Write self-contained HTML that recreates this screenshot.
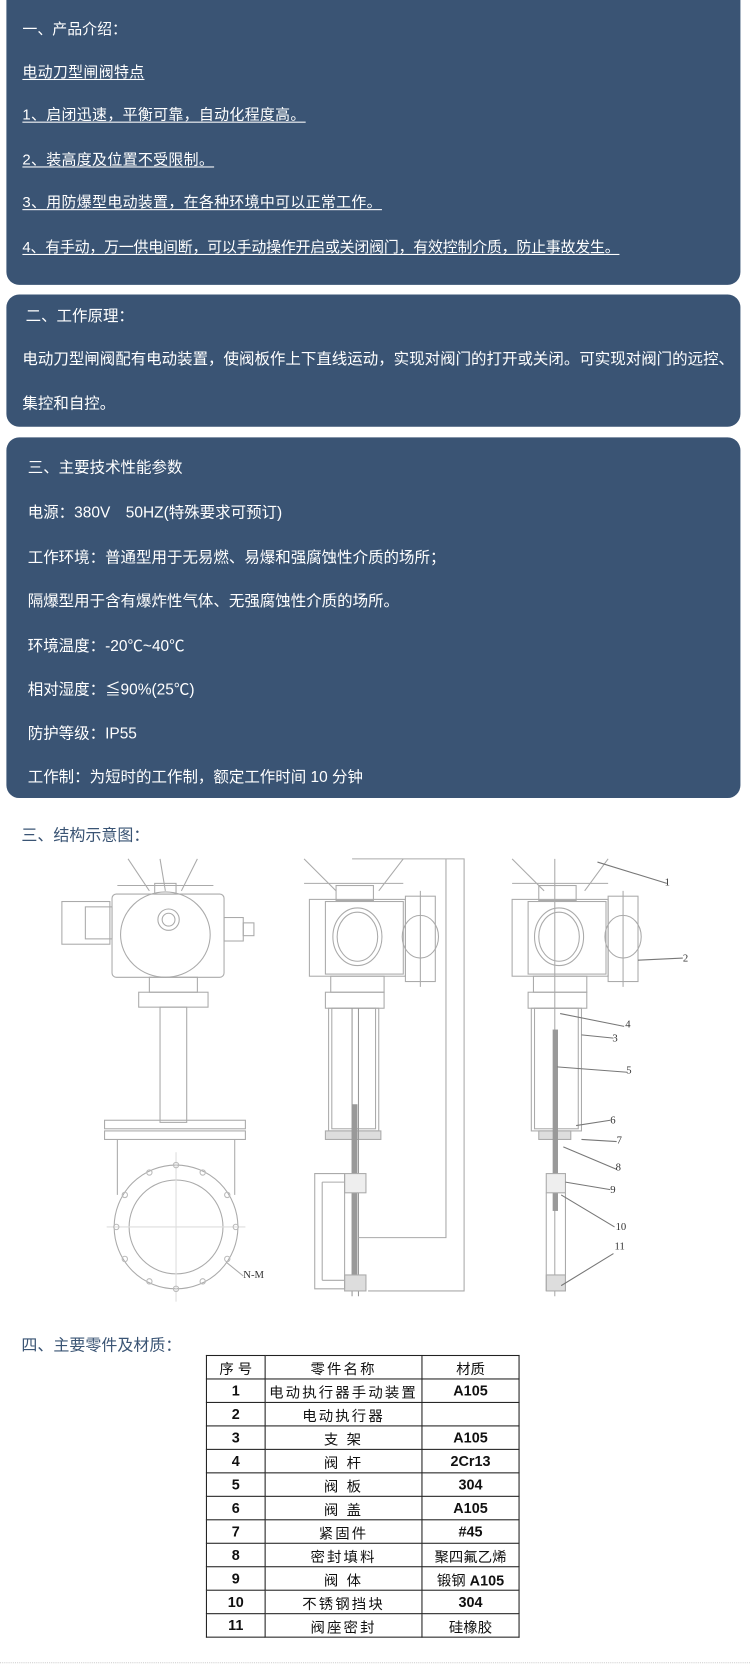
<!DOCTYPE html>
<html><head><meta charset="utf-8">
<style>
html,body{margin:0;padding:0;background:#fff;}
body{width:750px;height:1673px;overflow:hidden;position:relative;}
#w{position:absolute;left:0;top:0;width:703px;height:1568px;transform:scale(1.0669);transform-origin:0 0;font-family:"Liberation Sans","Noto Sans CJK SC","WenQuanYi Zen Hei",sans-serif;}
.p{position:absolute;left:6px;width:688px;background:#3a5474;border-radius:12px;color:#fff;}
.t{position:absolute;left:15px;font-size:14.5px;white-space:nowrap;line-height:18px;}
.u{text-decoration:underline;text-underline-offset:2px;font-size:14px;letter-spacing:0.3px;}
.h{position:absolute;left:20px;color:#3a5474;font-size:15px;}
table{position:absolute;left:193px;top:1270px;border-collapse:collapse;font-size:13.5px;}
td{border:1.5px solid #222;height:21px;padding:0;text-align:center;color:#111;white-space:nowrap;}
td.n{font-weight:bold;}
td.m{letter-spacing:2px;}
</style></head><body><div id="w">
<div class="p" style="top:-12px;height:279px;">
 <div class="t" style="top:30px;font-size:14px;">一、产品介绍：</div>
 <div class="t u" style="top:70px;">电动刀型闸阀特点</div>
 <div class="t u" style="top:110px;">1、启闭迅速，平衡可靠，自动化程度高。</div>
 <div class="t u" style="top:152px;">2、装高度及位置不受限制。</div>
 <div class="t u" style="top:192px;">3、用防爆型电动装置，在各种环境中可以正常工作。</div>
 <div class="t u" style="top:234px;letter-spacing:-0.2px;">4、有手动，万一供电间断，可以手动操作开启或关闭阀门，有效控制介质，防止事故发生。</div>
</div>
<div class="p" style="top:276px;height:124px;">
 <div class="t" style="top:12px;left:18px;">二、工作原理：</div>
 <div class="t" style="top:52px;">电动刀型闸阀配有电动装置，使阀板作上下直线运动，实现对阀门的打开或关闭。可实现对阀门的远控、</div>
 <div class="t" style="top:94px;">集控和自控。</div>
</div>
<div class="p" style="top:410px;height:338px;">
 <div class="t" style="top:20px;left:20px;">三、主要技术性能参数</div>
 <div class="t" style="top:62px;left:20px;">电源：380V　50HZ(特殊要求可预订)</div>
 <div class="t" style="top:104px;left:20px;">工作环境：普通型用于无易燃、易爆和强腐蚀性介质的场所；</div>
 <div class="t" style="top:145px;left:20px;">隔爆型用于含有爆炸性气体、无强腐蚀性介质的场所。</div>
 <div class="t" style="top:187px;left:20px;">环境温度：-20℃~40℃</div>
 <div class="t" style="top:228px;left:20px;">相对湿度：≦90%(25℃)</div>
 <div class="t" style="top:269px;left:20px;">防护等级：IP55</div>
 <div class="t" style="top:310px;left:20px;">工作制：为短时的工作制，额定工作时间 10 分钟</div>
</div>
<div class="h" style="top:772px;">三、结构示意图：</div>
<svg style="position:absolute;left:0;top:0" width="703" height="1568" fill="none" stroke="#aaa" stroke-width="1">
 <path d="M120 805 L140 835 M185 805 L170 835 M150 805 L155 835 M110 830 L200 830"/>
 <rect x="145" y="828" width="20" height="10"/>
 <rect x="58" y="845" width="45" height="40"/><rect x="80" y="850" width="25" height="30"/>
 <rect x="105" y="838" width="105" height="78" rx="4"/>
 <ellipse cx="155" cy="876" rx="42" ry="40"/>
 <circle cx="158" cy="862" r="10"/><circle cx="158" cy="862" r="6"/>
 <rect x="210" y="860" width="18" height="22"/><rect x="228" y="865" width="10" height="12"/>
 <rect x="140" y="916" width="45" height="14"/><rect x="130" y="930" width="65" height="14"/>
 <rect x="150" y="944" width="25" height="108"/>
 <rect x="98" y="1050" width="132" height="8"/><rect x="98" y="1060" width="132" height="8"/>
 <path d="M110 1068 L110 1120 M220 1068 L220 1120"/>
 <circle cx="165" cy="1150" r="58"/><circle cx="165" cy="1150" r="44"/>
 <path d="M100 1150 L230 1150 M165 1080 L165 1220" stroke="#ddd"/>
 <g stroke="#bbb"><circle cx="140" cy="1099" r="2.5"/><circle cx="190" cy="1099" r="2.5"/><circle cx="117" cy="1120" r="2.5"/><circle cx="213" cy="1120" r="2.5"/><circle cx="109" cy="1150" r="2.5"/><circle cx="221" cy="1150" r="2.5"/><circle cx="117" cy="1180" r="2.5"/><circle cx="213" cy="1180" r="2.5"/><circle cx="140" cy="1201" r="2.5"/><circle cx="190" cy="1201" r="2.5"/><circle cx="165" cy="1208" r="2.5"/><circle cx="165" cy="1092" r="2.5"/></g>
 <path d="M212 1183 L228 1196"/>
 <path d="M285 805 L315 835 M378 805 L355 835 M285 828 L378 828"/>
 <rect x="315" y="830" width="35" height="14"/>
 <rect x="290" y="843" width="90" height="72"/><rect x="305" y="845" width="73" height="68"/>
 <ellipse cx="335" cy="878" rx="23" ry="27"/><ellipse cx="335" cy="878" rx="19" ry="23"/>
 <rect x="380" y="840" width="28" height="80"/><ellipse cx="394" cy="878" rx="17" ry="20"/><path d="M394 835 L394 925"/>
 <rect x="310" y="915" width="50" height="15"/><rect x="305" y="930" width="55" height="15"/>
 <rect x="308" y="945" width="47" height="115"/><rect x="311" y="945" width="41" height="113"/>
 <rect x="305" y="1060" width="52" height="8" fill="#ddd"/>
 <path d="M330 945 L330 1215 M336 945 L336 1215" stroke="#999"/>
 <rect x="330" y="1035" width="5" height="175" fill="#999" stroke="none"/>
 <rect x="323" y="1100" width="20" height="18" fill="#eee"/><rect x="323" y="1195" width="20" height="15" fill="#ddd"/>
 <path d="M295 1100 L323 1100 L323 1208 L295 1208 Z M302 1108 L323 1108 M302 1200 L323 1200 M302 1108 L302 1200"/>
 <path d="M330 805 L435 805 L435 1210 L345 1210 M418 805 L418 1160 L336 1160"/>
 <path d="M480 805 L510 835 M570 805 L548 835 M480 828 L570 828 M520 805 L520 1215"/>
 <rect x="505" y="830" width="35" height="14"/>
 <rect x="480" y="843" width="90" height="72"/><rect x="495" y="845" width="73" height="68"/>
 <ellipse cx="524" cy="878" rx="23" ry="27"/><ellipse cx="524" cy="878" rx="19" ry="23"/>
 <rect x="570" y="840" width="28" height="80"/><ellipse cx="584" cy="878" rx="17" ry="20"/><path d="M584 835 L584 925"/>
 <rect x="500" y="915" width="50" height="15"/><rect x="495" y="930" width="55" height="15"/>
 <rect x="498" y="945" width="47" height="115"/><rect x="501" y="945" width="41" height="113"/>
 <rect x="505" y="1060" width="30" height="8" fill="#ddd"/>
 <rect x="518" y="965" width="5" height="170" fill="#999" stroke="none"/>
 <rect x="512" y="1100" width="18" height="18" fill="#eee"/><rect x="512" y="1195" width="18" height="15" fill="#ddd"/>
 <path d="M512 1118 L512 1210 M530 1118 L530 1210"/>
 <g stroke="#777"><path d="M560 808 L625 828 M598 900 L640 898 M525 950 L585 962 M545 970 L575 973 M522 1000 L588 1005 M540 1055 L572 1050 M545 1068 L578 1070 M528 1075 L578 1096 M530 1108 L572 1115 M526 1120 L576 1150 M526 1205 L575 1175"/></g>
</svg>
<div style="position:absolute;font:10px 'Liberation Serif',serif;color:#333;white-space:nowrap;">
 <span style="position:absolute;left:623px;top:822px">1</span><span style="position:absolute;left:640px;top:893px">2</span>
 <span style="position:absolute;left:586px;top:955px">4</span><span style="position:absolute;left:574px;top:968px">3</span>
 <span style="position:absolute;left:587px;top:998px">5</span><span style="position:absolute;left:572px;top:1045px">6</span>
 <span style="position:absolute;left:578px;top:1064px">7</span><span style="position:absolute;left:577px;top:1089px">8</span>
 <span style="position:absolute;left:572px;top:1110px">9</span><span style="position:absolute;left:577px;top:1145px">10</span>
 <span style="position:absolute;left:576px;top:1163px">11</span><span style="position:absolute;left:228px;top:1190px">N-M</span>
</div>
<div class="h" style="top:1250px;">四、主要零件及材质：</div>
<table>
<tr><td style="width:54px">序 号</td><td class="m" style="width:146px">零件名称</td><td style="width:90px">材质</td></tr>
<tr><td class="n">1</td><td class="m">电动执行器手动装置</td><td class="n">A105</td></tr>
<tr><td class="n">2</td><td class="m">电动执行器</td><td></td></tr>
<tr><td class="n">3</td><td class="m">支 架</td><td class="n">A105</td></tr>
<tr><td class="n">4</td><td class="m">阀 杆</td><td class="n">2Cr13</td></tr>
<tr><td class="n">5</td><td class="m">阀 板</td><td class="n">304</td></tr>
<tr><td class="n">6</td><td class="m">阀 盖</td><td class="n">A105</td></tr>
<tr><td class="n">7</td><td class="m">紧固件</td><td class="n">#45</td></tr>
<tr><td class="n">8</td><td class="m">密封填料</td><td>聚四氟乙烯</td></tr>
<tr><td class="n">9</td><td class="m">阀 体</td><td>锻钢 <b>A105</b></td></tr>
<tr><td class="n">10</td><td class="m">不锈钢挡块</td><td class="n">304</td></tr>
<tr><td class="n">11</td><td class="m">阀座密封</td><td>硅橡胶</td></tr>
</table>
<div style="position:absolute;left:0;top:1558px;width:703px;border-top:1px dotted #ccc;"></div>
</div></body></html>
